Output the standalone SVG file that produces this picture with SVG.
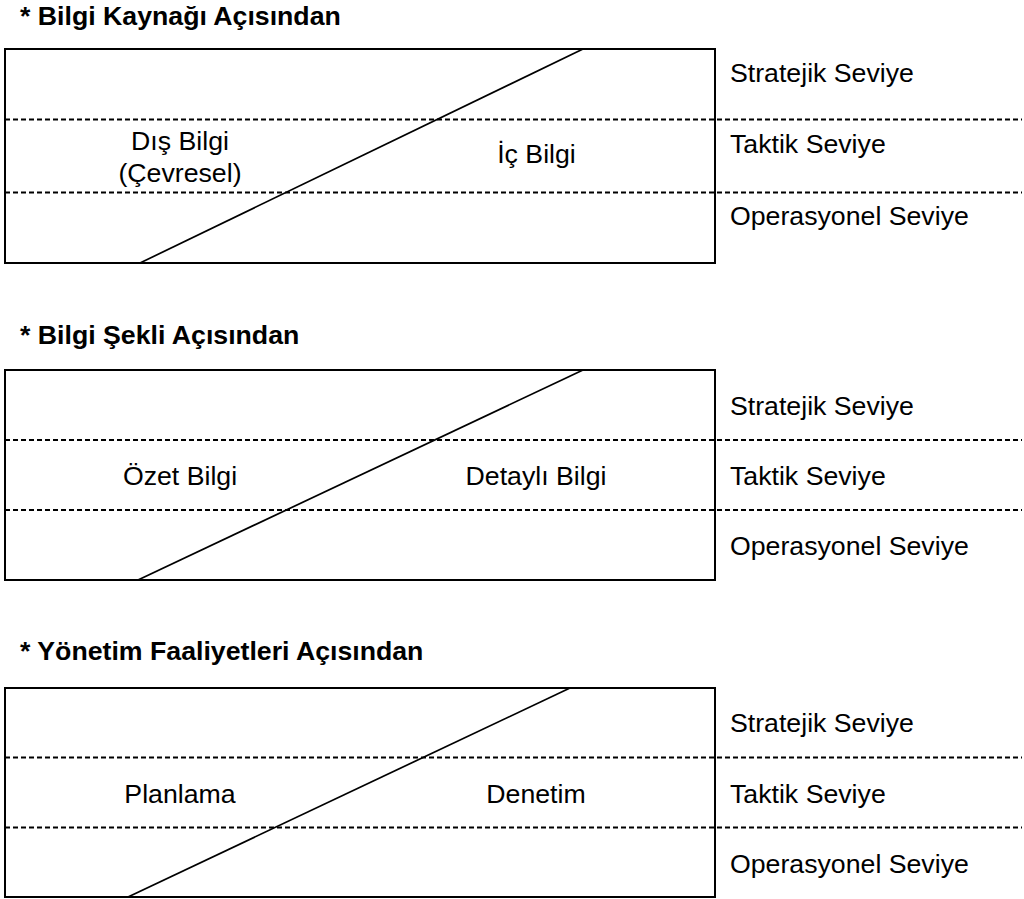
<svg xmlns="http://www.w3.org/2000/svg" width="1024" height="899" viewBox="0 0 1024 899">
<style>
.t{font-family:"Liberation Sans",Arial,sans-serif;font-size:26.7px;fill:#000}
.h{font-family:"Liberation Sans",Arial,sans-serif;font-size:26.7px;font-weight:bold;fill:#000}
.c{text-anchor:middle}
.box{fill:none;stroke:#000;stroke-width:2}
.dash{stroke:#000;stroke-width:2;stroke-dasharray:5 3;fill:none}
.diag{stroke:#000;stroke-width:1.7;fill:none}
</style>
<rect width="1024" height="899" fill="#fff"/>
<g id="section1">
<text class="h" x="20" y="25">* Bilgi Kaynağı Açısından</text>
<rect class="box" x="5" y="49" width="710" height="214"/>
<line class="dash" x1="5" y1="119.5" x2="1022" y2="119.5"/>
<line class="dash" x1="5" y1="192.5" x2="1022" y2="192.5"/>
<line class="diag" x1="140" y1="263" x2="583" y2="49"/>
<text class="t c" x="180" y="150">Dış Bilgi</text>
<text class="t c" x="180" y="182">(Çevresel)</text>
<text class="t c" x="536.5" y="163">İç Bilgi</text>
<text class="t" x="730" y="82">Stratejik Seviye</text>
<text class="t" x="730" y="153">Taktik Seviye</text>
<text class="t" x="730" y="225">Operasyonel Seviye</text>
</g>
<g id="section2">
<text class="h" x="20" y="344">* Bilgi Şekli Açısından</text>
<rect class="box" x="5" y="370" width="710" height="210"/>
<line class="dash" x1="5" y1="440" x2="1022" y2="440"/>
<line class="dash" x1="5" y1="510" x2="1022" y2="510"/>
<line class="diag" x1="138" y1="580" x2="583" y2="370"/>
<text class="t c" x="180" y="485">Özet Bilgi</text>
<text class="t c" x="536" y="485">Detaylı Bilgi</text>
<text class="t" x="730" y="415">Stratejik Seviye</text>
<text class="t" x="730" y="485">Taktik Seviye</text>
<text class="t" x="730" y="555">Operasyonel Seviye</text>
</g>
<g id="section3">
<text class="h" x="20" y="660">* Yönetim Faaliyetleri Açısından</text>
<rect class="box" x="5" y="688" width="710" height="209"/>
<line class="dash" x1="5" y1="757.5" x2="1022" y2="757.5"/>
<line class="dash" x1="5" y1="827.5" x2="1022" y2="827.5"/>
<line class="diag" x1="128" y1="897" x2="570" y2="688"/>
<text class="t c" x="180" y="803">Planlama</text>
<text class="t c" x="536" y="803">Denetim</text>
<text class="t" x="730" y="732">Stratejik Seviye</text>
<text class="t" x="730" y="803">Taktik Seviye</text>
<text class="t" x="730" y="873">Operasyonel Seviye</text>
</g>
</svg>
